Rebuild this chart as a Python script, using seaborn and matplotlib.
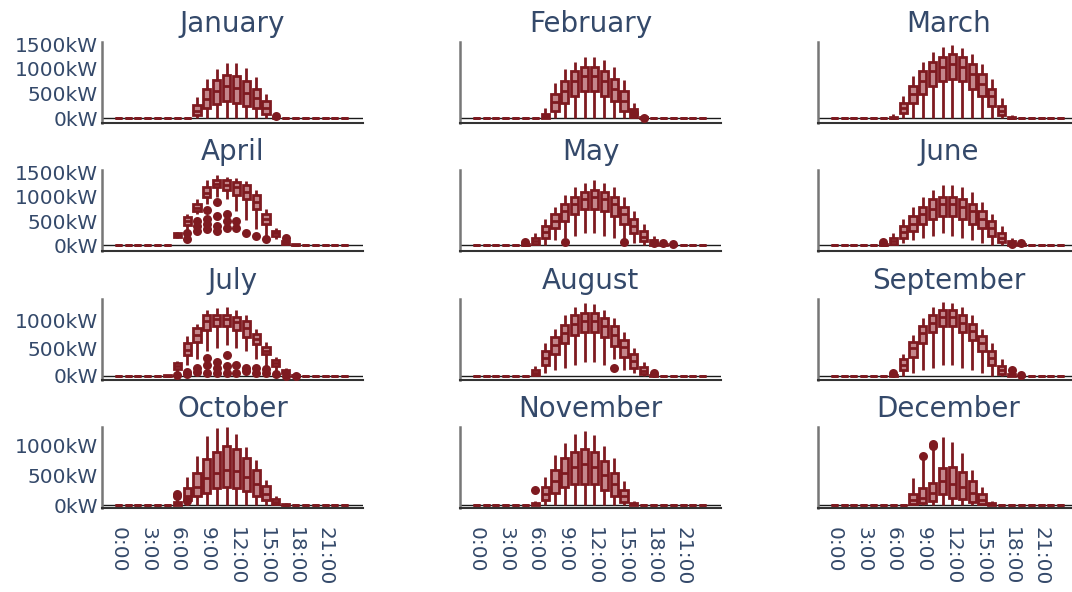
import matplotlib
matplotlib.use("Agg")
import matplotlib.pyplot as plt
import numpy as np
import pandas as pd
import seaborn as sns
from matplotlib.ticker import FixedLocator, FuncFormatter

# ---------------- data (kW) : hour -> (whisker low, q1, median, q3, whisker high)
MONTHS = ["January", "February", "March", "April", "May", "June",
          "July", "August", "September", "October", "November", "December"]
HOURS = list(range(24))
XTICKS = [0, 3, 6, 9, 12, 15, 18, 21]
XTICK_LABELS = ["0:00", "3:00", "6:00", "9:00", "12:00", "15:00", "18:00", "21:00"]
YTICKS = [0, 500, 1000, 1500]

JAN = {8: (0, 60, 150, 260, 430), 9: (0, 200, 380, 600, 800), 10: (0, 280, 550, 780, 1000),
       11: (0, 350, 650, 880, 1130), 12: (0, 300, 620, 850, 1120), 13: (0, 250, 520, 750, 1030),
       14: (0, 200, 400, 600, 830), 15: (0, 80, 200, 350, 500), 16: (0, 0, 0, 10, 20)}
JAN_OUT = [(16, 40)]

FEB = {7: (0, 10, 40, 90, 200), 8: (0, 150, 330, 500, 720), 9: (0, 300, 550, 750, 1000),
       10: (0, 450, 750, 950, 1150), 11: (0, 550, 850, 1050, 1250), 12: (0, 550, 850, 1050, 1250),
       13: (0, 450, 750, 950, 1180), 14: (0, 350, 600, 800, 1050), 15: (0, 150, 350, 550, 780),
       16: (0, 20, 80, 180, 300), 17: (0, 0, 0, 20, 60)}
FEB_OUT = [(16, 100), (17, 10)]

MAR = {6: (0, 0, 10, 30, 80), 7: (0, 100, 200, 300, 450), 8: (0, 300, 500, 650, 850),
       9: (0, 500, 750, 950, 1150), 10: (0, 650, 950, 1150, 1350), 11: (0, 750, 1050, 1250, 1450),
       12: (0, 800, 1100, 1300, 1480), 13: (0, 750, 1050, 1250, 1420), 14: (0, 600, 900, 1100, 1300),
       15: (0, 450, 700, 900, 1100), 16: (0, 250, 450, 600, 800), 17: (0, 60, 150, 250, 400),
       18: (0, 0, 5, 20, 60)}
MAR_OUT = []

APR = {5: (0, 0, 0, 5, 15), 6: (150, 180, 220, 250, 280), 7: (300, 420, 500, 580, 650),
       8: (650, 720, 780, 850, 950), 9: (850, 1000, 1080, 1200, 1350),
       10: (1000, 1200, 1280, 1350, 1450), 11: (950, 1150, 1250, 1350, 1420),
       12: (700, 1050, 1200, 1320, 1400), 13: (530, 950, 1100, 1250, 1330),
       14: (330, 750, 900, 1050, 1150), 15: (200, 450, 550, 650, 750),
       16: (120, 200, 250, 300, 350), 17: (0, 30, 60, 80, 100), 18: (0, 0, 5, 15, 30)}
APR_OUT = [(7, 120), (7, 250), (8, 300), (8, 400), (8, 500), (9, 330), (9, 450), (9, 550),
           (9, 740), (10, 300), (10, 400), (10, 600), (10, 900), (11, 350), (11, 500),
           (11, 650), (12, 350), (12, 500), (13, 250), (14, 200), (15, 120), (17, 150)]

MAY = {5: (0, 0, 5, 20, 40), 6: (0, 30, 80, 150, 250), 7: (0, 150, 280, 400, 550),
       8: (100, 350, 500, 650, 800), 9: (150, 500, 700, 850, 1050), 10: (200, 650, 850, 1000, 1200),
       11: (250, 750, 950, 1100, 1300), 12: (250, 750, 1000, 1150, 1350),
       13: (200, 700, 950, 1100, 1300), 14: (150, 600, 850, 1000, 1200),
       15: (100, 450, 650, 800, 1000), 16: (50, 250, 400, 550, 700), 17: (0, 80, 180, 300, 450),
       18: (0, 10, 40, 100, 200), 19: (0, 0, 5, 15, 40), 20: (0, 0, 0, 0, 5)}
MAY_OUT = [(5, 60), (9, 60), (15, 60), (18, 40), (19, 50), (20, 20)]

JUN = {5: (0, 0, 5, 15, 40), 6: (0, 30, 90, 160, 250), 7: (50, 150, 280, 400, 550),
       8: (100, 300, 450, 600, 800), 9: (150, 450, 650, 800, 1000), 10: (200, 550, 750, 950, 1150),
       11: (250, 600, 850, 1000, 1250), 12: (200, 600, 850, 1000, 1250),
       13: (150, 550, 800, 950, 1200), 14: (100, 450, 700, 850, 1100),
       15: (50, 350, 550, 700, 900), 16: (0, 200, 350, 500, 650), 17: (0, 60, 150, 250, 400),
       18: (0, 10, 40, 80, 150), 19: (0, 0, 5, 15, 40)}
JUN_OUT = [(5, 70), (18, 20), (19, 40)]

JUL = {5: (0, 0, 5, 10, 20), 6: (50, 120, 180, 230, 280), 7: (200, 380, 480, 600, 720),
       8: (300, 620, 750, 870, 950), 9: (450, 840, 1000, 1110, 1200),
       10: (500, 900, 1030, 1110, 1230), 11: (560, 900, 1030, 1110, 1250),
       12: (500, 840, 980, 1080, 1200), 13: (450, 700, 870, 1000, 1100),
       14: (300, 580, 680, 760, 850), 15: (180, 400, 460, 520, 620),
       16: (80, 180, 240, 290, 340), 17: (20, 50, 80, 110, 150), 18: (0, 5, 15, 25, 40),
       19: (0, 0, 0, 5, 10)}
JUL_OUT = [(6, 20), (7, 70), (7, 40), (8, 70), (8, 150), (9, 60), (9, 200), (9, 320),
           (10, 50), (10, 150), (10, 250), (11, 60), (11, 180), (11, 380), (12, 60),
           (12, 200), (13, 80), (13, 150), (14, 60), (14, 150), (15, 50), (15, 120),
           (16, 30), (17, 0), (18, 0)]

AUG = {6: (0, 20, 60, 110, 180), 7: (50, 200, 330, 450, 600), 8: (100, 400, 560, 700, 850),
       9: (150, 600, 780, 920, 1100), 10: (200, 750, 950, 1100, 1250),
       11: (250, 800, 1000, 1150, 1320), 12: (250, 800, 1000, 1150, 1300),
       13: (200, 700, 900, 1050, 1200), 14: (300, 550, 750, 900, 1050),
       15: (100, 350, 520, 650, 800), 16: (50, 150, 280, 400, 500), 17: (0, 30, 90, 160, 250),
       18: (0, 0, 10, 20, 40)}
AUG_OUT = [(14, 150), (18, 60)]

SEP = {6: (0, 0, 10, 20, 40), 7: (0, 100, 200, 300, 400), 8: (50, 350, 500, 620, 750),
       9: (100, 600, 780, 900, 1050), 10: (150, 800, 970, 1100, 1250),
       11: (200, 900, 1070, 1200, 1350), 12: (200, 900, 1070, 1200, 1330),
       13: (150, 800, 970, 1100, 1250), 14: (100, 650, 820, 950, 1100),
       15: (50, 450, 600, 720, 850), 16: (0, 200, 330, 450, 600), 17: (0, 40, 100, 180, 300),
       18: (0, 5, 20, 40, 80), 19: (0, 0, 0, 5, 10)}
SEP_OUT = [(6, 60), (18, 100), (19, 20)]

OCT = {6: (0, 0, 20, 50, 100), 7: (0, 80, 150, 280, 470), 8: (0, 150, 300, 550, 830),
       9: (0, 200, 450, 780, 1160), 10: (0, 280, 550, 900, 1300), 11: (0, 300, 600, 1000, 1320),
       12: (0, 280, 580, 950, 1210), 13: (0, 230, 480, 800, 980), 14: (0, 150, 350, 600, 770),
       15: (0, 80, 180, 320, 420), 16: (0, 20, 50, 100, 150), 17: (0, 0, 5, 15, 30)}
OCT_OUT = [(6, 150), (6, 180), (7, 60)]

NOV = {6: (0, 0, 10, 30, 60), 7: (0, 80, 180, 300, 480), 8: (0, 200, 400, 600, 850),
       9: (0, 300, 550, 800, 1050), 10: (0, 350, 650, 900, 1200), 11: (0, 350, 700, 950, 1250),
       12: (0, 350, 650, 900, 1180), 13: (0, 250, 500, 750, 1000), 14: (0, 150, 350, 550, 800),
       15: (0, 50, 150, 250, 400), 16: (0, 0, 10, 30, 60)}
NOV_OUT = [(6, 250)]

DEC = {8: (0, 20, 80, 180, 450), 9: (0, 30, 120, 280, 800), 10: (0, 60, 200, 380, 980),
       11: (0, 180, 400, 620, 1150), 12: (0, 120, 350, 640, 1060), 13: (0, 100, 300, 560, 880),
       14: (0, 50, 200, 400, 600), 15: (0, 20, 80, 180, 300), 16: (0, 0, 10, 30, 60)}
DEC_OUT = [(9, 830), (10, 1000), (10, 1030)]

MONTH_STATS = [JAN, FEB, MAR, APR, MAY, JUN, JUL, AUG, SEP, OCT, NOV, DEC]
MONTH_OUT = [JAN_OUT, FEB_OUT, MAR_OUT, APR_OUT, MAY_OUT, JUN_OUT,
             JUL_OUT, AUG_OUT, SEP_OUT, OCT_OUT, NOV_OUT, DEC_OUT]
ROW_YLIM = [(-100, 1550), (-120, 1560), (-75, 1400), (-50, 1320)]

# ---------------- style
LINE = "#7e1a20"
FILL = "#c4868b"
TEXT = "#34496a"

sns.set_style("white")
plt.rcParams["font.family"] = ["DejaVu Sans"]

W, H = 1072, 592
fig = plt.figure(figsize=(W / 100, H / 100), dpi=100)

COL_X = [102, 460, 818]
ROW_TOP = [42, 170, 299, 427]
AX_W, AX_H = 261, 81

for i, month in enumerate(MONTHS):
    r, c = divmod(i, 3)
    ax = fig.add_axes([COL_X[c] / W, 1 - (ROW_TOP[r] + AX_H) / H, AX_W / W, AX_H / H])
    stats = MONTH_STATS[i]
    rows = []
    for h in HOURS:
        for v in stats.get(h, (0, 0, 0, 0, 0)):
            rows.append((h, v))
    df = pd.DataFrame(rows, columns=["hour", "kW"])
    sns.boxplot(data=df, x="hour", y="kW", ax=ax, native_scale=True, orient="x",
                whis=(0, 100), width=0.72, color=FILL, linecolor=LINE, linewidth=2.0,
                saturation=1, showcaps=False, showfliers=False)
    out = MONTH_OUT[i]
    if out:
        odf = pd.DataFrame(out, columns=["hour", "kW"])
        sns.scatterplot(data=odf, x="hour", y="kW", ax=ax, color=LINE, s=42,
                        linewidth=0, zorder=5, legend=False)
    ax.axhline(0, color="#1a1a1a", lw=1.0, zorder=0.5)
    ax.set_xlim(-1.65, 24.85)
    ax.set_ylim(*ROW_YLIM[r])
    sns.despine(ax=ax)
    ax.spines["left"].set_color("#777777")
    ax.spines["left"].set_linewidth(1.8)
    ax.spines["bottom"].set_color("#333333")
    ax.spines["bottom"].set_linewidth(1.5)
    ax.set_xlabel("")
    ax.set_ylabel("")
    ax.yaxis.set_major_locator(FixedLocator(YTICKS))
    ax.yaxis.set_major_formatter(FuncFormatter(lambda v, p: f"{int(v)}kW"))
    ax.xaxis.set_major_locator(FixedLocator(XTICKS))
    ax.set_xticklabels(XTICK_LABELS)
    ax.tick_params(length=0, labelsize=14.5, labelcolor=TEXT)
    ax.tick_params(axis="y", pad=3)
    ax.tick_params(axis="x", pad=14)
    for lab in ax.get_xticklabels():
        lab.set_rotation(-90)
        lab.set_va("top")
        lab.set_ha("center")
    if c > 0:
        ax.tick_params(axis="y", labelleft=False)
    if r < 3:
        ax.tick_params(axis="x", labelbottom=False)
    ax.set_title(month, fontsize=20, color=TEXT, pad=7)

fig.savefig("out.png", dpi=100)
